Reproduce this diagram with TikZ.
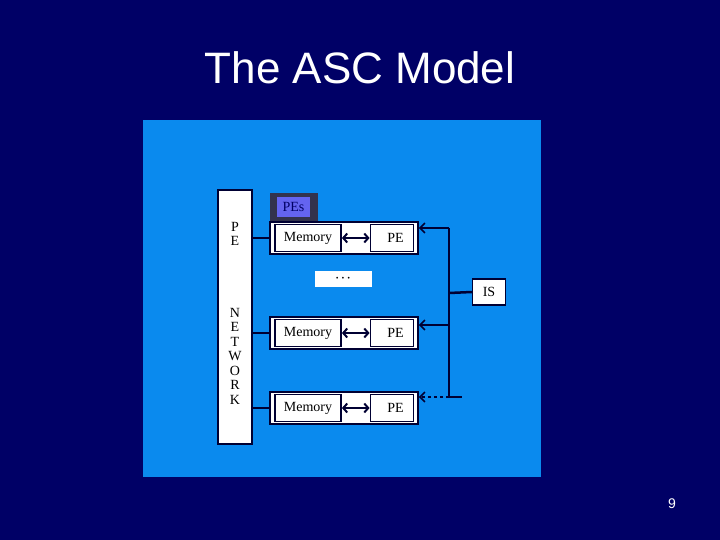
\documentclass[tikz,border=0pt]{standalone}
\usepackage{fontspec}
\setmainfont{Liberation Serif}
\newfontfamily\sans{Liberation Sans}
\usetikzlibrary{arrows.meta}
\definecolor{navy}{HTML}{000066}
\definecolor{panel}{HTML}{0A8AEE}
\definecolor{edge}{HTML}{000033}
\definecolor{tab}{HTML}{33334D}
\definecolor{tabin}{HTML}{6464F0}
\tikzset{wbox/.style={draw=edge,fill=white,line width=1.8pt},
 lbl/.style={font=\fontsize{14}{16}\selectfont,text=black},
 link/.style={draw=edge,line width=1.5pt},
 inarrow/.style={draw=edge,line width=1.5pt,-{Straight Barb[length=5pt,width=10pt]}}}
\begin{document}
\begin{tikzpicture}[x=1pt,y=-1pt]
\fill[navy] (0,0) rectangle (720,540);
\useasboundingbox (0,0) rectangle (720,540);
\node[text=white,font=\sans\fontsize{44}{50}\selectfont] (title) at (360,68) {The ASC Model};
\fill[panel] (143,120) rectangle (541,477);
\node[wbox,minimum width=34pt,minimum height=254pt,inner sep=0] (net) at (235,317) {};
\node[lbl,align=center,inner sep=0] (pe) at (235,234) {P\\[-1.5pt]E};
\node[lbl,align=center,inner sep=0] (nw) at (235,356) {N\\[-1.5pt]E\\[-1.5pt]T\\[-1.5pt]W\\[-1.5pt]O\\[-1.5pt]R\\[-1.5pt]K};
\fill[tab] (270,193) rectangle (318,221);
\node[fill=tabin,minimum width=33pt,minimum height=20pt,inner sep=0,font=\fontsize{14}{16}\selectfont,text=navy] (pes) at (293.5,207) {PEs};
\foreach \n/\y in {1/238,2/333,3/408}{
 \node[wbox,minimum width=148pt,minimum height=32pt,inner sep=0] (row\n) at (344,\y) {};
 \node[wbox,minimum width=66pt,minimum height=27pt,inner sep=0,lbl] (mem\n) at (308,\y) {Memory};
 \node[wbox,minimum width=43pt,minimum height=27pt,inner sep=0,lbl] (pe\n) at (392,\y) {\ \ PE};
 \draw[link,line width=2pt,{Straight Barb[length=4pt,width=9pt]}-{Straight Barb[length=4pt,width=9pt]}] (mem\n) -- (pe\n);
 \draw[link] (net.east |- row\n.west) -- (row\n.west);
}
\node[fill=white,minimum width=57pt,minimum height=16pt,inner sep=0,font=\bfseries\fontsize{16}{16}\selectfont] (dots) at (343,279) {$\cdot\!\cdot\!\cdot$};
\node[wbox,minimum width=33pt,minimum height=26pt,inner sep=0,lbl,line width=1.2pt] (is) at (489,292) {IS};
\coordinate (b1) at (449,228);
\coordinate (b2) at (449,325);
\coordinate (b3) at (449,397);
\coordinate (b4) at (462,397);
\coordinate (bi) at (449,293);
\draw[link] (b1) -- (b3) -- (b4);
\draw[link,line width=2.5pt] (is.west) -- (bi);
\draw[inarrow] (b1) -- (row1.east |- b1);
\draw[inarrow] (b2) -- (row2.east |- b2);
\draw[inarrow,dashed] (b3) -- (row3.east |- b3);
\node[text=white,font=\sans\fontsize{14}{16}\selectfont] (num) at (672,504) {9};
\end{tikzpicture}
\end{document}
